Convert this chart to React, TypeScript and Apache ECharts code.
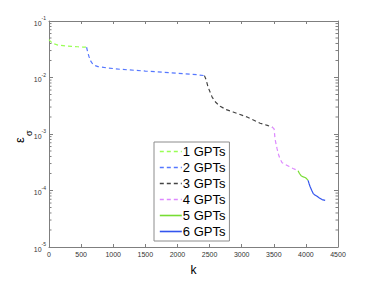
import React, { useEffect, useRef } from "react";
import * as echarts from "echarts";

const seriesNames = ["1 GPTs", "2 GPTs", "3 GPTs", "4 GPTs", "5 GPTs", "6 GPTs"];
const seriesColors = ["#99ff55", "#5577ff", "#444444", "#dd88ff", "#77dd33", "#3355ee"];
const seriesDashed = [true, true, true, true, false, false];

const k1 = [0, 20, 60, 140, 250, 350, 450, 530, 585];
const v1 = [0.047, 0.044, 0.040, 0.0375, 0.0362, 0.0355, 0.0350, 0.0346, 0.0343];
const k2 = [585, 600, 623, 650, 685, 720, 763, 900, 1105, 1500, 2000, 2300, 2420];
const v2 = [0.0343, 0.029, 0.0234, 0.0195, 0.017, 0.0162, 0.0156, 0.0148, 0.014, 0.0130, 0.0119, 0.0112, 0.0108];
const k3 = [2420, 2445, 2478, 2540, 2600, 2665, 2760, 2866, 3085, 3287, 3400, 3474];
const v3 = [0.0108, 0.0092, 0.0067, 0.0045, 0.0036, 0.0031, 0.0027, 0.00245, 0.0020, 0.00155, 0.00142, 0.00133];
const k4 = [3474, 3505, 3520, 3551, 3575, 3598, 3630, 3676, 3740, 3800, 3878];
const v4 = [0.00133, 0.00123, 0.00081, 0.00055, 0.00043, 0.00036, 0.00031, 0.00029, 0.000265, 0.000245, 0.000224];
const k5 = [3878, 3900, 3925, 3960, 3987, 4010, 4034];
const v5 = [0.000224, 0.0002, 0.000183, 0.000174, 0.00017, 0.000163, 0.000151];
const k6 = [4034, 4050, 4065, 4090, 4112, 4140, 4174, 4210, 4252, 4300];
const v6 = [0.000151, 0.000132, 0.000118, 0.000101, 0.000089, 0.000083, 0.000079, 0.000074, 0.000069, 0.000067];

const allK = [k1, k2, k3, k4, k5, k6];
const allV = [v1, v2, v3, v4, v5, v6];

const minorMultipliers = [2, 3, 4, 5, 6, 7, 8, 9];
const decades = [1e-5, 1e-4, 1e-3, 1e-2];

const FONT = "'Liberation Sans', Arial, Helvetica, sans-serif";
const AXIS_COLOR = "#7f7f7f";

export default function App() {
  const ref = useRef<HTMLDivElement>(null);
  useEffect(() => {
    const chart = echarts.init(ref.current!, null, { renderer: "svg" });
    const minorVals: number[] = [];
    decades.forEach((d) => minorMultipliers.forEach((m) => minorVals.push(d * m)));

    const lineSeries = seriesNames.map((name, i) => ({
      name,
      type: "line",
      xAxisIndex: 0,
      yAxisIndex: 0,
      data: allK[i].map((k, j) => [k, allV[i][j]]),
      symbol: "none",
      smooth: false,
      color: seriesColors[i],
      lineStyle: {
        color: seriesColors[i],
        width: 1.2,
        type: seriesDashed[i] ? [4, 3] : "solid",
      },
      itemStyle: { color: seriesColors[i] },
      z: 3,
    }));

    const yLabel = (v: number) => {
      const e = Math.round(Math.log10(v));
      return "{b|10}{e|" + e + "}";
    };

    const option: any = {
      animation: false,
      backgroundColor: "#ffffff",
      textStyle: { fontFamily: FONT },
      grid: { left: 49, right: 36, top: 21, bottom: 32, containLabel: false },
      legend: {
        left: 154,
        top: 142,
        orient: "vertical",
        itemWidth: 22,
        itemHeight: 13,
        itemGap: 3,
        padding: [3, 4, 3, 5],
        borderColor: "#8c8c8c",
        borderWidth: 1,
        backgroundColor: "#ffffff",
        itemStyle: { opacity: 0 },
        lineStyle: { width: 1.6 },
        textStyle: { fontSize: 13, color: "#000", fontFamily: FONT, padding: [0, 0, 0, -4] },
        data: seriesNames,
      },
      xAxis: [
        {
          type: "value",
          min: 0,
          max: 4500,
          interval: 500,
          name: "k",
          nameLocation: "middle",
          nameGap: 17,
          nameTextStyle: { fontSize: 12, color: "#000", fontFamily: FONT },
          axisLine: { show: true, lineStyle: { color: AXIS_COLOR, width: 1 } },
          axisTick: { show: true, inside: true, length: 3, lineStyle: { color: AXIS_COLOR } },
          axisLabel: { fontSize: 7, color: "#333", margin: 4, fontFamily: FONT, formatter: (v: number) => String(v) },
          splitLine: { show: false },
        },
        {
          type: "value",
          position: "top",
          min: 0,
          max: 4500,
          interval: 500,
          axisLine: { show: true, onZero: false, lineStyle: { color: AXIS_COLOR, width: 1 } },
          axisTick: { show: true, inside: true, length: 3, lineStyle: { color: AXIS_COLOR } },
          axisLabel: { show: false },
          splitLine: { show: false },
        },
      ],
      yAxis: [
        {
          type: "log",
          logBase: 10,
          min: 1e-5,
          max: 1e-1,
          axisLine: { show: true, lineStyle: { color: AXIS_COLOR, width: 1 } },
          axisTick: { show: true, inside: true, length: 4, lineStyle: { color: AXIS_COLOR } },
          axisLabel: {
            formatter: yLabel,
            margin: 3,
            rich: {
              b: { fontSize: 7, color: "#333", lineHeight: 11, verticalAlign: "bottom", fontFamily: FONT },
              e: { fontSize: 5, color: "#333", lineHeight: 11, verticalAlign: "top", fontFamily: FONT },
            },
          },
          splitLine: { show: false },
          minorTick: { show: false },
        },
        {
          type: "log",
          logBase: 10,
          min: 1e-5,
          max: 1e-1,
          position: "right",
          axisLine: { show: true, onZero: false, lineStyle: { color: AXIS_COLOR, width: 1 } },
          axisTick: { show: true, inside: true, length: 4, lineStyle: { color: AXIS_COLOR } },
          axisLabel: { show: false },
          splitLine: { show: false },
        },
      ],
      graphic: [
        {
          type: "text",
          x: 13,
          y: 143,
          rotation: Math.PI / 2,
          style: { text: "ε", fontSize: 13, fill: "#000", fontFamily: FONT },
        },
        {
          type: "text",
          x: 24,
          y: 136,
          rotation: Math.PI / 2,
          style: { text: "σ", fontSize: 9, fill: "#000", fontFamily: FONT },
        },
      ],
      series: [
        ...lineSeries,
        {
          type: "custom",
          xAxisIndex: 0,
          yAxisIndex: 0,
          silent: true,
          clip: false,
          data: minorVals.map((v) => [0, v]),
          renderItem: (params: any, api: any) => {
            const v = api.value(1);
            const pL = api.coord([0, v]);
            const pR = api.coord([4500, v]);
            return {
              type: "group",
              children: [
                { type: "line", shape: { x1: pL[0], y1: pL[1], x2: pL[0] + 2.5, y2: pL[1] }, style: { stroke: AXIS_COLOR, lineWidth: 1 } },
                { type: "line", shape: { x1: pR[0], y1: pR[1], x2: pR[0] - 2.5, y2: pR[1] }, style: { stroke: AXIS_COLOR, lineWidth: 1 } },
              ],
            };
          },
          z: 1,
        },
      ],
    };
    chart.setOption(option);
    return () => chart.dispose();
  }, []);
  return (
    <div
      ref={ref}
      style={{ position: "fixed", left: 0, top: 0, width: 374, height: 281, background: "#fff" }}
    />
  );
}
